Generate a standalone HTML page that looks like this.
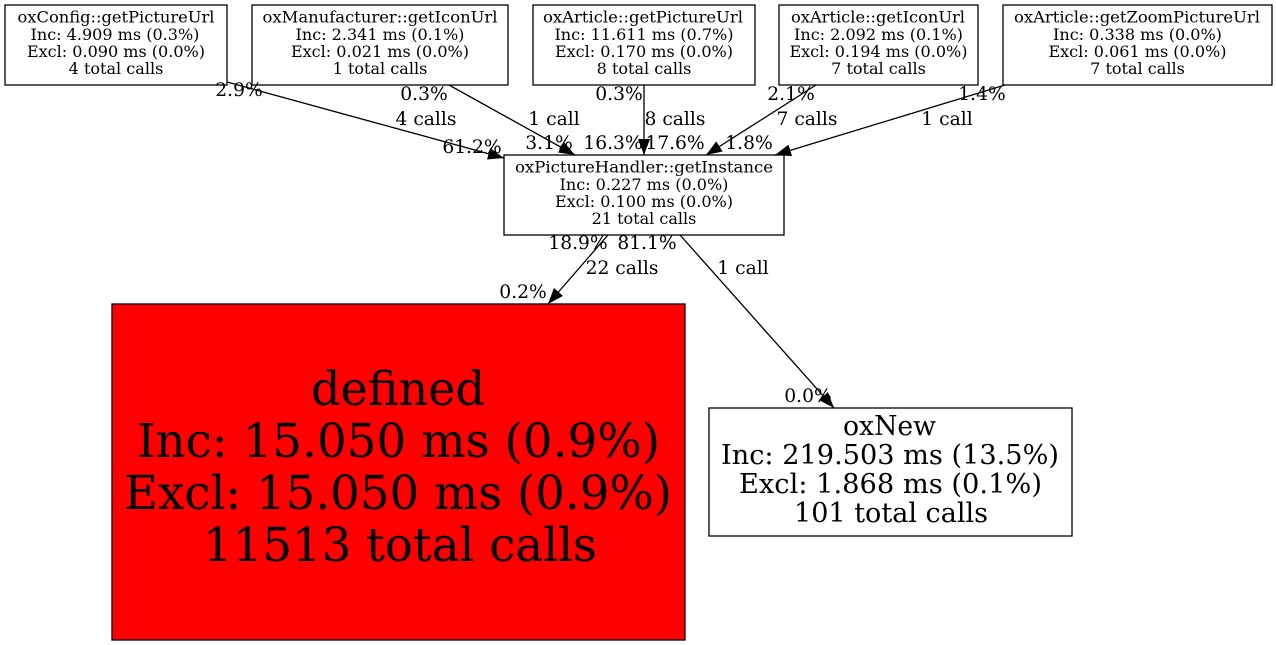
<!DOCTYPE html>
<html><head><meta charset="utf-8"><style>
html,body{margin:0;padding:0;background:#fff;width:1276px;height:645px;overflow:hidden}
svg{display:block}
text{font-family:"DejaVu Serif",serif;fill:#000;text-anchor:middle}
.n{font-size:16.05px}
.e{font-size:18.7px}
.r{font-size:46.8px}
.w{font-size:27.2px}
rect{stroke:#000;stroke-width:1.3;fill:#fff}
line{stroke:#000;stroke-width:1.3}
polygon{fill:#000}
</style></head><body>
<svg width="1276" height="645" viewBox="0 0 1276 645" xmlns="http://www.w3.org/2000/svg">
<defs><marker id="a" markerUnits="userSpaceOnUse" markerWidth="18" markerHeight="14" refX="16" refY="6.5" orient="auto"><polygon points="0 0.5,16 6.5,0 12.5"/></marker></defs>
<rect x="5" y="5" width="222" height="80"/>
<rect x="252" y="5" width="256" height="80"/>
<rect x="533" y="5" width="222" height="80"/>
<rect x="779" y="5" width="199" height="80"/>
<rect x="1003" y="5" width="269" height="80"/>
<rect x="504" y="155" width="280" height="80"/>
<rect x="112" y="304" width="573" height="336" style="fill:#f00"/>
<rect x="709" y="408" width="363" height="128"/>
<g class="n">
<text x="116" y="22.5" textLength="197" lengthAdjust="spacingAndGlyphs">oxConfig::getPictureUrl</text><text x="115" y="40">Inc: 4.909 ms (0.3%)</text><text x="116" y="57">Excl: 0.090 ms (0.0%)</text><text x="116" y="74">4 total calls</text>
<text x="380" y="22.5" textLength="235" lengthAdjust="spacingAndGlyphs">oxManufacturer::getIconUrl</text><text x="380" y="40">Inc: 2.341 ms (0.1%)</text><text x="380" y="57">Excl: 0.021 ms (0.0%)</text><text x="380" y="74">1 total calls</text>
<text x="643" y="22.5" textLength="200" lengthAdjust="spacingAndGlyphs">oxArticle::getPictureUrl</text><text x="644" y="40">Inc: 11.611 ms (0.7%)</text><text x="644" y="57">Excl: 0.170 ms (0.0%)</text><text x="644" y="74">8 total calls</text>
<text x="878" y="22.5" textLength="174" lengthAdjust="spacingAndGlyphs">oxArticle::getIconUrl</text><text x="878.5" y="40">Inc: 2.092 ms (0.1%)</text><text x="878.5" y="57">Excl: 0.194 ms (0.0%)</text><text x="878.5" y="74">7 total calls</text>
<text x="1137" y="22.5" textLength="246" lengthAdjust="spacingAndGlyphs">oxArticle::getZoomPictureUrl</text><text x="1137.5" y="40">Inc: 0.338 ms (0.0%)</text><text x="1137.5" y="57">Excl: 0.061 ms (0.0%)</text><text x="1137.5" y="74">7 total calls</text>
<text x="644" y="172.5" textLength="258" lengthAdjust="spacingAndGlyphs">oxPictureHandler::getInstance</text><text x="644" y="190">Inc: 0.227 ms (0.0%)</text><text x="644" y="207">Excl: 0.100 ms (0.0%)</text><text x="644" y="224">21 total calls</text>
</g>
<g class="r"><text x="398" y="405" textLength="174" lengthAdjust="spacingAndGlyphs">defined</text><text x="398.5" y="457" textLength="523" lengthAdjust="spacingAndGlyphs">Inc: 15.050 ms (0.9%)</text><text x="398" y="509" textLength="548" lengthAdjust="spacingAndGlyphs">Excl: 15.050 ms (0.9%)</text><text x="400" y="561" textLength="394" lengthAdjust="spacingAndGlyphs">11513 total calls</text></g>
<g class="w"><text x="889.5" y="435" textLength="93" lengthAdjust="spacingAndGlyphs">oxNew</text><text x="890" y="464" textLength="338" lengthAdjust="spacingAndGlyphs">Inc: 219.503 ms (13.5%)</text><text x="890.5" y="493" textLength="303" lengthAdjust="spacingAndGlyphs">Excl: 1.868 ms (0.1%)</text><text x="891" y="522" textLength="194" lengthAdjust="spacingAndGlyphs">101 total calls</text></g>
<line x1="227" y1="82" x2="504" y2="158" marker-end="url(#a)"/>
<line x1="449" y1="85" x2="575" y2="155" marker-end="url(#a)"/>
<line x1="644" y1="85" x2="644" y2="155" marker-end="url(#a)"/>
<line x1="816" y1="85" x2="706" y2="155" marker-end="url(#a)"/>
<line x1="1005" y1="85" x2="775" y2="155" marker-end="url(#a)"/>
<line x1="608" y1="235" x2="548" y2="304" marker-end="url(#a)"/>
<line x1="680" y1="235" x2="834" y2="408" marker-end="url(#a)"/>
<g class="e">
<text x="239" y="96">2.9%</text><text x="424" y="100">0.3%</text><text x="619" y="100">0.3%</text><text x="791" y="100">2.1%</text><text x="982" y="100">1.4%</text>
<text x="426" y="125">4 calls</text><text x="554" y="125">1 call</text><text x="675" y="125">8 calls</text><text x="807" y="125">7 calls</text><text x="947" y="125">1 call</text>
<text x="472" y="153">61.2%</text><text x="549" y="149">3.1%</text><text x="613" y="149">16.3%</text><text x="675" y="149">17.6%</text><text x="749" y="149">1.8%</text>
<text x="578" y="249">18.9%</text><text x="647" y="249">81.1%</text>
<text x="622" y="274">22 calls</text><text x="743" y="274">1 call</text>
<text x="523" y="298">0.2%</text><text x="808" y="402">0.0%</text>
</g>
</svg>
</body></html>
